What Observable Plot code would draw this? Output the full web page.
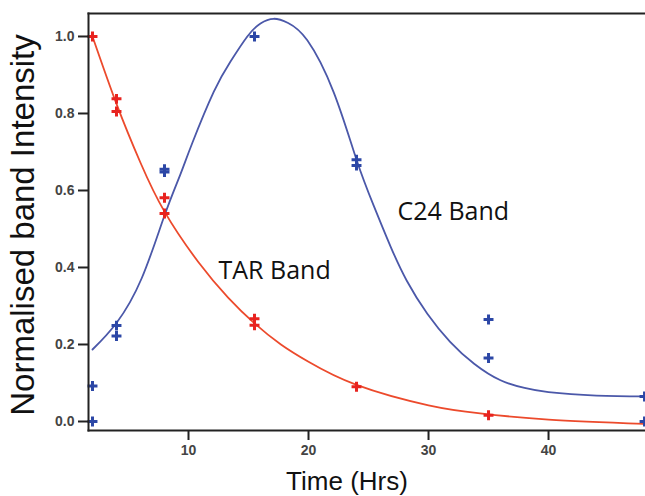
<!DOCTYPE html>
<html><head><meta charset="utf-8">
<script src="https://cdn.jsdelivr.net/npm/d3@7"></script>
<script src="https://cdn.jsdelivr.net/npm/@observablehq/plot@0.6"></script>
<style>html,body{margin:0;padding:0;background:#fff;overflow:hidden}</style>
</head><body><div id="chart"></div>
<script>
// Measured data points (crosses)
const tarX = [2, 4, 4, 8, 8, 15.5, 15.5, 24, 35];
const tarY = [1.0, 0.838, 0.805, 0.581, 0.54, 0.267, 0.25, 0.09, 0.016];
const c24X = [2, 2, 4, 4, 8, 8, 15.5, 24, 24, 35, 35, 48, 48];
const c24Y = [0.092, 0.0, 0.249, 0.222, 0.655, 0.648, 1.0, 0.68, 0.665, 0.265, 0.165, 0.065, 0.0];
// Fitted curves
const tarFitX = [2, 4, 6, 8, 10.8, 13.3, 15.5, 17.7, 20, 24, 30, 34.3, 40, 48];
const tarFitY = [1.0, 0.825, 0.672, 0.545, 0.415, 0.322, 0.255, 0.2, 0.155, 0.095, 0.042, 0.021, 0.005, -0.006];
const c24FitX = [2, 4, 6.1, 8, 9.3, 10.3, 12.1, 13.5, 14.9, 16, 17.1, 18.3, 19.9, 22.1, 24, 25.44, 26.83, 28.2, 29.9, 31.8, 33.8, 36, 38, 40, 44, 48];
const c24FitY = [0.187, 0.256, 0.372, 0.535, 0.64, 0.722, 0.856, 0.935, 1.0, 1.034, 1.046, 1.035, 0.99, 0.855, 0.68, 0.56, 0.455, 0.365, 0.28, 0.207, 0.15, 0.107, 0.087, 0.076, 0.067, 0.065];
// Axes
const xTicks = [10, 20, 30, 40];
const yTicks = [0.0, 0.2, 0.4, 0.6, 0.8, 1.0];
const xDomain = [1.667, 48.08];
const yDomain = [-0.0234, 1.0597];
const xTitle = "Time (Hrs)";
const yTitle = "Normalised band Intensity";
// Curve labels (data units)
const labelText = ["TAR Band", "C24 Band"];
const labelX = [12.5, 27.42];
const labelY = [0.39, 0.5436];

const RED_LINE = "#ec4a2c", RED_PT = "#e8231f";
const BLUE_LINE = "#4b58a9", BLUE_PT = "#2c47a6";

const tarPts = tarX.map((x, i) => ({x, y: tarY[i]}));
const c24Pts = c24X.map((x, i) => ({x, y: c24Y[i]}));
const tarFit = tarFitX.map((x, i) => ({x, y: tarFitY[i]}));
const c24Fit = c24FitX.map((x, i) => ({x, y: c24FitY[i]}));
const labels = labelText.map((t, i) => ({t, x: labelX[i], y: labelY[i]}));

const chart = Plot.plot({
  width: 645, height: 496,
  marginLeft: 88, marginTop: 13, marginRight: 0, marginBottom: 66,
  style: {fontFamily: "'Liberation Sans', Arial, sans-serif", background: "#fff", overflow: "visible"},
  x: {domain: xDomain},
  y: {domain: yDomain},
  marks: [
    Plot.line(tarFit, {x: "x", y: "y", stroke: RED_LINE, strokeWidth: 1.8, curve: "natural"}),
    Plot.line(c24Fit, {x: "x", y: "y", stroke: BLUE_LINE, strokeWidth: 1.8, curve: "natural"}),
    Plot.dot(tarPts, {x: "x", y: "y", symbol: "plus", r: 3.3, stroke: RED_PT, strokeWidth: 3}),
    Plot.dot(c24Pts, {x: "x", y: "y", symbol: "plus", r: 3.3, stroke: BLUE_PT, strokeWidth: 3}),
    Plot.text(labels, {x: "x", y: "y", text: "t", textAnchor: "start", fontSize: 25,
      fontFamily: "'Open Sans', sans-serif", fill: "#111"}),
    Plot.frame({anchor: "top", stroke: "#222", strokeWidth: 2}),
    Plot.frame({anchor: "left", stroke: "#222", strokeWidth: 2}),
    Plot.frame({anchor: "bottom", stroke: "#222", strokeWidth: 2}),
    Plot.axisY(yTicks, {tickSize: 10, tickPadding: 4, tickFormat: d3.format(".1f"), label: null,
      fontSize: 14, fontWeight: "bold", fill: "#444", stroke: "#222", strokeWidth: 2}),
    Plot.axisX(xTicks, {tickSize: 10, tickPadding: 5, label: null,
      fontSize: 14, fontWeight: "bold", fill: "#444", stroke: "#222", strokeWidth: 2}),
    Plot.text([yTitle], {frameAnchor: "left", textAnchor: "middle", lineAnchor: "middle", rotate: -90,
      dx: -65.5, dy: 3, fontSize: 33, fill: "#111"}),
    Plot.text([xTitle], {frameAnchor: "bottom", textAnchor: "middle", lineAnchor: "middle",
      dx: -20, dy: 51.5, fontSize: 26, fill: "#111"})
  ]
});
document.getElementById("chart").appendChild(chart);
</script>
</body></html>
